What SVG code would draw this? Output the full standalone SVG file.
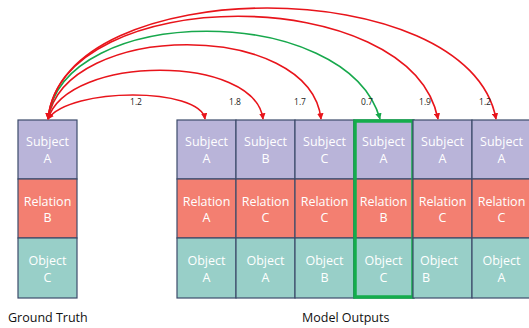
<svg xmlns="http://www.w3.org/2000/svg" width="529" height="328" viewBox="0 0 529 328">
<style>
.s{fill:#b9b4d9;stroke:#3d4b6b;stroke-width:1.2}
.r{fill:#f37f71;stroke:#3d4b6b;stroke-width:1.2}
.o{fill:#98cfc8;stroke:#3d4b6b;stroke-width:1.2}
.t{font-family:"Open Sans","Liberation Sans",sans-serif;font-size:12.5px;fill:#ffffff;text-anchor:middle}
.lbl{font-family:"Open Sans","Liberation Sans",sans-serif;font-size:8.5px;fill:#222;text-anchor:middle}
.cap{font-family:"Open Sans","Liberation Sans",sans-serif;font-size:12.5px;fill:#111}
.ar{fill:none;stroke:#e8141b;stroke-width:1.6}
.ag{fill:none;stroke:#17a84c;stroke-width:1.6}
</style>
<defs>
<marker id="mr" viewBox="0 0 10 10" refX="9" refY="5" markerWidth="4" markerHeight="4" orient="auto-start-reverse" markerUnits="strokeWidth"><path d="M0,0 L10,5 L0,10 z" fill="#e8141b"/></marker>
<marker id="mg" viewBox="0 0 10 10" refX="9" refY="5" markerWidth="4" markerHeight="4" orient="auto-start-reverse" markerUnits="strokeWidth"><path d="M0,0 L10,5 L0,10 z" fill="#17a84c"/></marker>
</defs>
<g id="gt">
<rect class="s" x="18" y="120" width="59" height="59"/>
<rect class="r" x="18" y="179" width="59" height="59"/>
<rect class="o" x="18" y="238" width="59" height="60"/>
<text class="t" x="47.5" y="146">Subject</text><text class="t" x="47.5" y="163">A</text>
<text class="t" x="47.5" y="206">Relation</text><text class="t" x="47.5" y="222">B</text>
<text class="t" x="47.5" y="265">Object</text><text class="t" x="47.5" y="282">C</text>
</g>
<g id="m1">
<rect class="s" x="177" y="120" width="59" height="59"/>
<rect class="r" x="177" y="179" width="59" height="59"/>
<rect class="o" x="177" y="238" width="59" height="60"/>
<text class="t" x="206.5" y="146">Subject</text><text class="t" x="206.5" y="163">A</text>
<text class="t" x="206.5" y="206">Relation</text><text class="t" x="206.5" y="222">A</text>
<text class="t" x="206.5" y="265">Object</text><text class="t" x="206.5" y="282">A</text>
</g>
<g id="m2">
<rect class="s" x="236" y="120" width="59" height="59"/>
<rect class="r" x="236" y="179" width="59" height="59"/>
<rect class="o" x="236" y="238" width="59" height="60"/>
<text class="t" x="265.5" y="146">Subject</text><text class="t" x="265.5" y="163">B</text>
<text class="t" x="265.5" y="206">Relation</text><text class="t" x="265.5" y="222">C</text>
<text class="t" x="265.5" y="265">Object</text><text class="t" x="265.5" y="282">A</text>
</g>
<g id="m3">
<rect class="s" x="295" y="120" width="59" height="59"/>
<rect class="r" x="295" y="179" width="59" height="59"/>
<rect class="o" x="295" y="238" width="59" height="60"/>
<text class="t" x="324.5" y="146">Subject</text><text class="t" x="324.5" y="163">C</text>
<text class="t" x="324.5" y="206">Relation</text><text class="t" x="324.5" y="222">C</text>
<text class="t" x="324.5" y="265">Object</text><text class="t" x="324.5" y="282">B</text>
</g>
<g id="m4">
<rect class="s" x="354" y="120" width="59" height="59"/>
<rect class="r" x="354" y="179" width="59" height="59"/>
<rect class="o" x="354" y="238" width="59" height="60"/>
<text class="t" x="383.5" y="146">Subject</text><text class="t" x="383.5" y="163">A</text>
<text class="t" x="383.5" y="206">Relation</text><text class="t" x="383.5" y="222">B</text>
<text class="t" x="383.5" y="265">Object</text><text class="t" x="383.5" y="282">C</text>
<rect x="355" y="121" width="58" height="176" fill="none" stroke="#14ad4c" stroke-width="3.5"/>
</g>
<g id="m5">
<rect class="s" x="413" y="120" width="59" height="59"/>
<rect class="r" x="413" y="179" width="59" height="59"/>
<rect class="o" x="413" y="238" width="59" height="60"/>
<text class="t" x="442.5" y="146">Subject</text><text class="t" x="442.5" y="163">A</text>
<text class="t" x="442.5" y="206">Relation</text><text class="t" x="442.5" y="222">C</text>
<text class="t" x="439" y="265">Object</text><text class="t" x="422" y="282" style="text-anchor:start">B</text>
</g>
<g id="m6">
<rect class="s" x="472" y="120" width="59" height="59"/>
<rect class="r" x="472" y="179" width="59" height="59"/>
<rect class="o" x="472" y="238" width="59" height="60"/>
<text class="t" x="501.5" y="146">Subject</text><text class="t" x="501.5" y="163">A</text>
<text class="t" x="501.5" y="206">Relation</text><text class="t" x="501.5" y="222">C</text>
<text class="t" x="501.5" y="265">Object</text><text class="t" x="501.5" y="282">A</text>
</g>
<g id="connectors">
<path class="ar" marker-start="url(#mr)" marker-end="url(#mr)" d="M48,119 C70,87 200,87 205,119"/>
<path class="ar" marker-start="url(#mr)" marker-end="url(#mr)" d="M48,119 C68,54 255,54 263,119"/>
<path class="ar" marker-start="url(#mr)" marker-end="url(#mr)" d="M48,119 C66,20 310,20 321,119"/>
<path class="ag" marker-end="url(#mg)" d="M48,119 C62,2 347,2 380,119"/>
<path class="ar" marker-start="url(#mr)" marker-end="url(#mr)" d="M48,119 C62,-18 411,-18 438,119"/>
<path class="ar" marker-start="url(#mr)" marker-end="url(#mr)" d="M48,119 C62,-29 469,-29 496,119"/>
</g>
<g id="labels">
<text class="lbl" x="136" y="105">1.2</text>
<text class="lbl" x="235" y="105">1.8</text>
<text class="lbl" x="300" y="105">1.7</text>
<text class="lbl" x="367" y="105">0.7</text>
<text class="lbl" x="425" y="105">1.9</text>
<text class="lbl" x="485" y="105">1.2</text>
<text class="cap" x="8" y="322">Ground Truth</text>
<text class="cap" x="302" y="322">Model Outputs</text>
</g>
</svg>
